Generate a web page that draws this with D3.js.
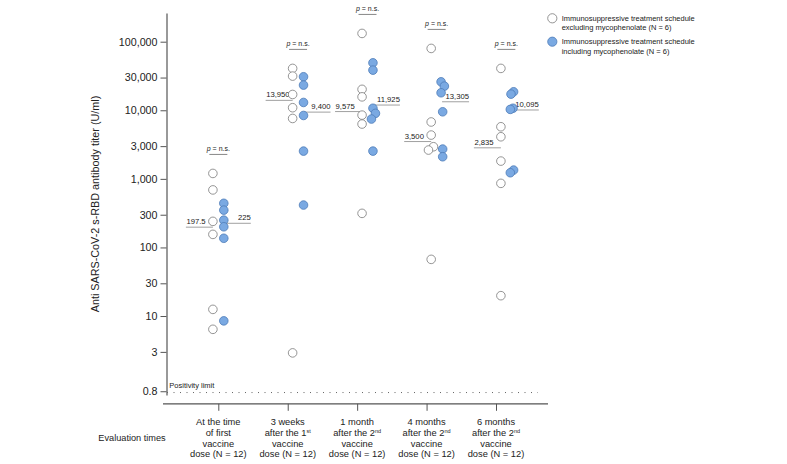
<!DOCTYPE html>
<html><head><meta charset="utf-8">
<script src="https://cdn.jsdelivr.net/npm/d3@7"></script>
<style>
html,body{margin:0;padding:0;background:#fff;}
text{font-family:"Liberation Sans", Arial, sans-serif;fill:#222;}
</style></head>
<body>
<svg id="chart" width="787" height="464"></svg>
<script>
// ---------- data ----------
const categories = ["t0", "3w", "1m", "4m", "6m"];
const categoryLabels = [
  ["At the time", "of first", "vaccine", "dose (N = 12)"],
  ["3 weeks", "after the 1^st", "vaccine", "dose (N = 12)"],
  ["1 month", "after the 2^nd", "vaccine", "dose (N = 12)"],
  ["4 months", "after the 2^nd", "vaccine", "dose (N = 12)"],
  ["6 months", "after the 2^nd", "vaccine", "dose (N = 12)"]
];
const excludingMyco = [
  [1200, 690, 240, 155, 12.5, 6.4],
  [40800, 31500, 17000, 10900, 7600, 2.9],
  [132000, 20200, 15700, 8500, 6300, 314],
  [79800, 6750, 4350, 2940, 2630, 67],
  [40800, 5750, 4110, 1816, 860, 19.8]
];
const includingMyco = [
  [440, 350, 250, 200, 136, 8.5],
  [30800, 23300, 13000, 8400, 2540, 415],
  [49200, 38500, 10700, 9020, 7450, 2540],
  [26000, 22500, 18000, 9500, 2720, 2100],
  [18600, 17200, 10700, 10300, 1343, 1228]
];
const medianExcl = [197.5, 13950, 9575, 3500, 2835];
const medianIncl = [225, 9400, 11925, 13305, 10095];
const pLabels = ["n.s.", "n.s.", "n.s.", "n.s.", "n.s."];
const yTickValues = [0.8, 3, 10, 30, 100, 300, 1000, 3000, 10000, 30000, 100000];
const positivityLimit = 0.8;
const legendLabels = [
  ["Immunosuppressive treatment schedule", "excluding mycophenolate (N = 6)"],
  ["Immunosuppressive treatment schedule", "including mycophenolate (N = 6)"]
];

// ---------- layout (not data) ----------
const groupShift = [0, 10.3, 10.3, 10, 10.3];
const exclJitter = [[0,0,0,0,0,0],[0,0,0,0,0,0],[0,0,0,0,0,0],[0,0,0,2.3,-2.7,0],[0,0,0,0,0,0]];
const inclJitter = [[0,0,0,0,0,0],[0,0,0,0,0,0],[0,0,0,2.5,-1.5,0],[-1,2.3,-1,0.6,0.6,0.6],[1.8,-0.8,1.2,-1.5,1.8,-1.5]];
const R = 4.3;
const whiteFill = "#ffffff", whiteStroke = "#7a7a7a";
const blueFill = "#7aa9e2", blueStroke = "#4c7bb8";
const axisColor = "#555";

const svg = d3.select("#chart");

const y = d3.scaleLog().domain([1, 100000]).range([384.6, 41.7]);
const yAxisScale = y.copy().domain([y.invert(395), y.invert(13)]).range([395, 13]);
const x = d3.scalePoint().domain(categories).range([218.3, 496]);

// y axis
const gy = svg.append("g").attr("transform", "translate(166.5,0)")
  .call(d3.axisLeft(yAxisScale).tickValues(yTickValues).tickSize(6).tickPadding(3)
    .tickSizeOuter(0).tickFormat(d3.format(",")));
gy.select(".domain").attr("stroke", axisColor).attr("stroke-width", 1.2);
gy.selectAll(".tick line").attr("stroke", axisColor).attr("stroke-width", 1);
gy.selectAll(".tick text").style("font-size", "10.7px").attr("fill", "#222")
  .style("font-family", '"Liberation Sans", Arial, sans-serif');

// y title
svg.append("text").attr("transform", "rotate(-90)")
  .attr("x", -204).attr("y", 98.5).attr("text-anchor", "middle")
  .style("font-size", "10.8px").text("Anti SARS-CoV-2 s-RBD antibody titer (U/ml)");

// x axis
const gx = svg.append("g").attr("transform", "translate(0,403.8)")
  .call(d3.axisBottom(x).tickSize(7).tickSizeOuter(0).tickFormat(""));
gx.select(".domain").attr("d", "M163,0H548").attr("stroke", axisColor).attr("stroke-width", 1.2);
gx.selectAll(".tick line").attr("stroke", axisColor).attr("stroke-width", 1);

// x labels
categories.forEach((c, i) => {
  const t = svg.append("text").attr("text-anchor", "middle").style("font-size", "9.3px");
  categoryLabels[i].forEach((line, j) => {
    const ts = t.append("tspan").attr("x", x(c)).attr("y", 425 + j * 10.8);
    const parts = line.split("^");
    ts.text(parts[0]);
    if (parts[1]) {
      ts.append("tspan").attr("dy", -3.2).style("font-size", "5.5px").text(parts[1]);
    }
  });
});
svg.append("text").attr("x", 98.3).attr("y", 441).style("font-size", "9.2px").text("Evaluation times");

// positivity limit
svg.append("line").attr("x1", 167).attr("x2", 538)
  .attr("y1", y(positivityLimit) + 1.3).attr("y2", y(positivityLimit) + 1.3)
  .attr("stroke", "#666").attr("stroke-width", 1).attr("stroke-dasharray", "1,5.5");
svg.append("text").attr("x", 169.3).attr("y", 387.5).style("font-size", "7.5px").text("Positivity limit");

const fmt = d3.format(",");

categories.forEach((c, i) => {
  const wx = x(c) + groupShift[i] - 5.4;
  const bx = x(c) + groupShift[i] + 5.5;

  // median lines
  const ym1 = y(medianExcl[i]);
  svg.append("line").attr("x1", wx - 27).attr("x2", wx).attr("y1", ym1).attr("y2", ym1)
    .attr("stroke", "#a0a0a0").attr("stroke-width", 1);
  svg.append("text").attr("x", wx - 26.5).attr("y", ym1 - 3).style("font-size", "7.7px")
    .text(fmt(medianExcl[i]));
  const ym2 = y(medianIncl[i]);
  svg.append("line").attr("x1", bx).attr("x2", bx + 27).attr("y1", ym2).attr("y2", ym2)
    .attr("stroke", "#a0a0a0").attr("stroke-width", 1);
  svg.append("text").attr("x", bx + 27).attr("y", ym2 - 3).attr("text-anchor", "end")
    .style("font-size", "7.7px").text(fmt(medianIncl[i]));

  // p value
  const top = y(d3.max(excludingMyco[i].concat(includingMyco[i]))) - 19;
  const cx = (wx + bx) / 2;
  svg.append("line").attr("x1", cx - 9).attr("x2", cx + 9).attr("y1", top).attr("y2", top)
    .attr("stroke", "#888").attr("stroke-width", 1);
  const pt = svg.append("text").attr("x", cx).attr("y", top - 3.5).attr("text-anchor", "middle")
    .style("font-size", "7px");
  pt.append("tspan").style("font-style", "italic").text("p");
  pt.append("tspan").text(" = " + pLabels[i]);

  // points
  svg.append("g").selectAll("circle").data(excludingMyco[i]).join("circle")
    .attr("cx", (d, k) => wx + exclJitter[i][k]).attr("cy", d => y(d)).attr("r", R)
    .attr("fill", whiteFill).attr("stroke", whiteStroke).attr("stroke-width", 0.8);
  svg.append("g").selectAll("circle").data(includingMyco[i]).join("circle")
    .attr("cx", (d, k) => bx + inclJitter[i][k]).attr("cy", d => y(d)).attr("r", R)
    .attr("fill", blueFill).attr("stroke", blueStroke).attr("stroke-width", 0.8);
});

// legend
const legend = [[whiteFill, whiteStroke], [blueFill, blueStroke]];
legend.forEach((st, i) => {
  const cy = 18.3 + i * 23.4;
  svg.append("circle").attr("cx", 552.3).attr("cy", cy).attr("r", 4.6)
    .attr("fill", st[0]).attr("stroke", st[1]).attr("stroke-width", 0.8);
  legendLabels[i].forEach((line, j) => {
    svg.append("text").attr("x", 561.7).attr("y", cy + 2.7 + j * 9.2)
      .style("font-size", "7.5px").text(line);
  });
});
</script>
</body></html>
